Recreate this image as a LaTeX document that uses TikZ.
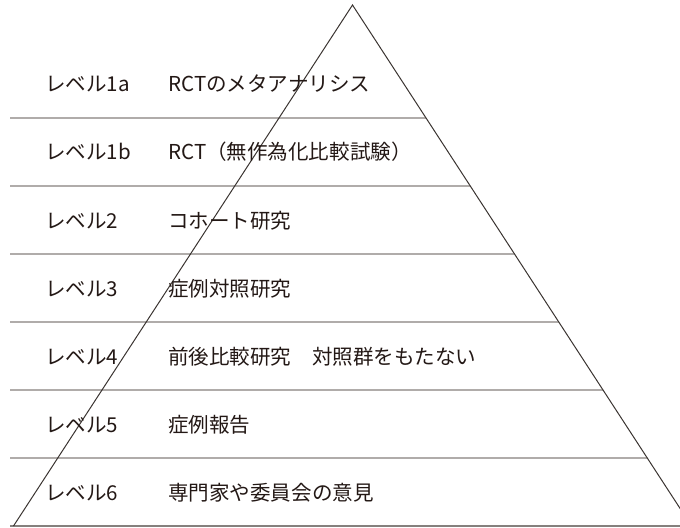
\documentclass[tikz,border=0pt]{standalone}
\usepackage{fontspec}
\setmainfont{Noto Sans CJK JP}
\usetikzlibrary{calc}
\definecolor{txt}{HTML}{231815}
\definecolor{rule}{HTML}{85807D}
\definecolor{tri}{HTML}{3A3431}
\begin{document}
\begin{tikzpicture}[x=0.75pt,y=-0.75pt,
  lbl/.style={anchor=base west,inner sep=0pt,text=txt,font=\fontsize{15.4pt}{18pt}\selectfont},
  hrule/.style={draw=rule,line width=1.1pt},
  side/.style={draw=tri,line width=0.75pt}]
\useasboundingbox (0,0) rectangle (680,527);
\clip (0,0) rectangle (680,527);
\coordinate (A) at (352.5,5);
\coordinate (L) at (13.5,526);
\coordinate (R) at (691.5,526);
% horizontal rules
\foreach \i in {0,...,5}{
  \pgfmathsetmacro{\yy}{118+68*\i}
  \pgfmathsetmacro{\tt}{(\yy-5)/521}
  \coordinate (s\i) at (10,\yy);
  \coordinate (e\i) at ($(A)!\tt!(R)$);
  \draw[hrule] (s\i) -- (e\i);
}
\coordinate (bs) at (10,526);
\coordinate (be) at (690,526);
\draw[hrule] (bs) -- (be);
% triangle sides
\draw[side] (L) -- (A) -- (R);
% labels
\node[lbl] (l1) at (45,92) {レベル1a};
\node[lbl] (t1) at (168,92) {RCTのメタアナリシス};
\node[lbl] (l2) at (45,160) {レベル1b};
\node[lbl] (t2) at (168,160) {RCT（無作為化比較試験）};
\node[lbl] (l3) at (45,228) {レベル2};
\node[lbl] (t3) at (168,228) {コホート研究};
\node[lbl] (l4) at (45,296) {レベル3};
\node[lbl] (t4) at (168,296) {症例対照研究};
\node[lbl] (l5) at (45,364) {レベル4};
\node[lbl] (t5) at (168,364) {前後比較研究　対照群をもたない};
\node[lbl] (l6) at (45,432) {レベル5};
\node[lbl] (t6) at (168,432) {症例報告};
\node[lbl] (l7) at (45,500) {レベル6};
\node[lbl] (t7) at (168,500) {専門家や委員会の意見};
\end{tikzpicture}
\end{document}
